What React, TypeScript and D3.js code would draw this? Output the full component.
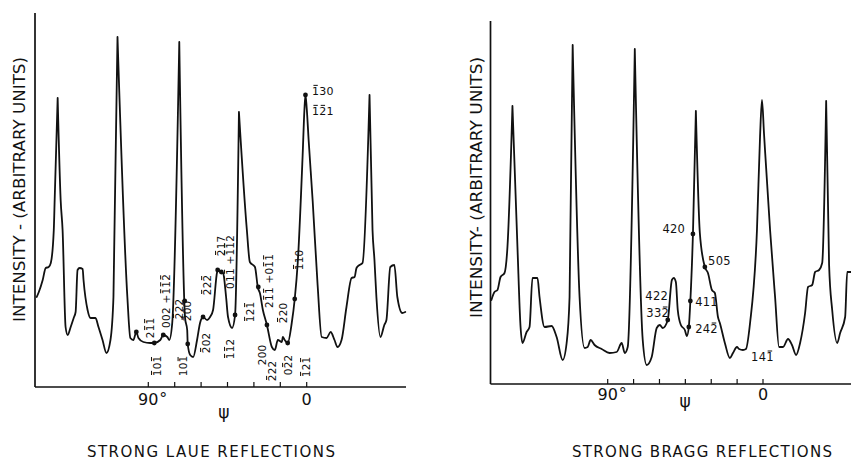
import React from 'react';
import * as d3 from 'd3';

// ---------- data: STRONG LAUE REFLECTIONS (left) ----------
const lauePsi = [
  153.4, 152.2, 150.0, 148.3, 146.6, 145.4, 143.7, 143.2, 141.5, 139.8, 138.7, 137.0, 135.8, 134.1, 132.4, 131.3,
  130.2, 129.0, 127.3, 126.8, 124.5, 122.8, 120.0, 118.3, 116.0, 113.8, 111.5, 109.8, 107.5, 101.9, 100.2, 98.5,
  96.8, 95.6, 92.8, 88.9, 86.6, 83.2, 81.5, 79.2, 78.1, 76.4, 72.4, 69.1, 67.9, 67.6, 66.2, 64.5,
  62.3, 60.6, 58.9, 56.6, 54.9, 53.2, 50.9, 50.4, 48.7, 47.5, 45.8, 44.7, 42.4, 40.7, 38.5, 34.0,
  32.3, 29.4, 27.7, 26.6, 24.9, 22.6, 19.8, 18.1, 16.4, 14.1, 13.6, 12.5, 10.8, 8.5, 6.8, 5.1,
  2.3, 1.3, 0.7, 0.0, -1.1, -3.4, -6.2, -8.5, -11.3, -13.6, -15.8, -17.5, -19.8, -22.6, -25.5, -27.2,
  -28.3, -30.0, -31.7, -35.7, -37.4, -38.5, -39.6, -41.9, -44.1, -45.3, -47.5, -49.8, -51.5, -54.3, -56.0,
];
const laueIntensity = [
  90, 95, 107, 119, 120, 124, 157, 187, 289, 187, 157, 60, 52, 60, 69, 75,
  117, 119, 118, 107, 77, 69, 69, 60, 47, 34, 47, 90, 350, 90, 49, 47,
  55, 49, 45, 44, 44, 47, 52, 50, 47, 64, 345, 69, 57, 43, 32, 30,
  47, 64, 70, 67, 70, 77, 115, 117, 115, 114, 90, 70, 59, 72, 275, 157,
  125, 120, 99, 94, 77, 62, 40, 37, 47, 45, 50, 47, 44, 64, 88, 124,
  232, 277, 292, 279, 247, 186, 102, 50, 49, 55, 47, 40, 47, 80, 109, 110,
  119, 122, 124, 292, 157, 127, 90, 50, 62, 67, 120, 122, 90, 74, 75,
];
const laueCuspPsi = [141.5, 107.5, 72.4, 38.5, -35.7];
const laueMarkerPsi = [96.8, 86.6, 81.5, 69.3, 67.6, 58.9, 50.6, 48.5, 40.7, 27.5, 22.6, 10.8, 6.8, 0.7];
const laueMarkerIntensity = [55, 44, 52, 86, 43, 70, 117, 115, 72, 100, 62, 44, 88, 292];

// rotated reflection labels ("~" puts a bar over the next character)
const laueLabelText = [
  '~10~1', '2~1~1', '002 +~1~1~2', '~222', '~200', '10~1', '~202', '~22~2', '~217', '0~1~1 +~1~12',
  '~1~12', '~12~1', '200', '~222', '2~1~1 +0~1~1', '~220', '0~22', '~110', '~12~1',
];
const laueLabelPsi = [85.1, 89.0, 79.9, 72.6, 67.7, 70.0, 57.2, 56.6, 48.7, 43.6, 43.6, 32.2, 25.4, 19.7, 21.4, 13.5, 10.6, 4.4, 0.4];
const laueLabelIntensity = [21, 59, 86, 78, 76, 21, 44, 102, 141, 125, 38, 75, 32, 16, 106, 74, 22, 127, 20];
// horizontal labels at the psi = 0 peak
const laueTopLabelText = ['~130', '~1~21'];
const laueTopLabelPsi = [-3.0, -3.0];
const laueTopLabelIntensity = [292, 272];

// ---------- data: STRONG BRAGG REFLECTIONS (right) ----------
const braggPsi = [
  157.4, 155.6, 153.9, 152.1, 149.8, 148.1, 145.2, 142.3, 140.5, 139.4, 137.0, 135.3, 133.6, 130.7, 129.5, 126.6,
  122.5, 119.6, 116.1, 113.8, 112.1, 110.3, 106.3, 103.4, 101.6, 99.9, 97.6, 93.5, 88.9, 84.8, 81.9, 80.1,
  78.4, 74.3, 69.7, 67.4, 64.5, 61.6, 59.8, 58.1, 55.2, 52.8, 51.7, 50.5, 49.4, 47.6, 45.3, 44.1,
  43.0, 42.1, 40.6, 38.9, 36.6, 33.7, 31.9, 29.6, 27.9, 26.1, 25.0, 22.1, 19.2, 17.4, 15.1, 13.9,
  11.6, 9.9, 7.5, 3.5, 1.7, 0.6, -0.6, -4.1, -7.0, -9.3, -11.6, -14.5, -16.8, -19.2, -21.5, -24.4,
  -26.1, -28.5, -30.2, -32.5, -34.3, -36.6, -38.3, -40.1, -43.0, -44.7, -47.6, -48.8, -51.1,
];
const braggIntensity = [
  84, 92, 94, 107, 111, 137, 278, 137, 57, 41, 52, 57, 106, 106, 87, 57,
  58, 47, 24, 41, 87, 339, 87, 36, 37, 44, 39, 35, 31, 32, 41, 31,
  37, 335, 44, 19, 27, 56, 59, 56, 64, 104, 106, 102, 74, 59, 54, 48,
  57, 83, 150, 273, 151, 117, 111, 94, 91, 67, 61, 41, 26, 31, 37, 35,
  34, 35, 61, 154, 248, 284, 250, 154, 87, 37, 37, 45, 39, 29, 41, 71,
  97, 99, 112, 114, 121, 283, 119, 74, 41, 51, 67, 112, 112,
];
const braggCuspPsi = [145.2, 110.3, 74.3, 38.9, -36.6];
const braggMarkerPsi = [55.2, 43.0, 42.1, 40.6, 33.7];
const braggMarkerIntensity = [64, 57, 83, 150, 117];
const braggLabelText = ['420', '505', '422', '33~2', '411', '24~2', '14~1'];
const braggLabelPsi = [45.2, 31.9, 55.1, 54.5, 39.4, 39.4, 7.0];
const braggLabelIntensity = [151, 119, 84, 67, 78, 51, 23];
const braggLabelAnchor = ['end', 'start', 'end', 'end', 'start', 'start', 'start'];

// ---------- axes ----------
const psiTicks = [90, 75, 60, 45, 30, 15, 0];
const psiTickLabels = ['90', '', '', '', '', '', '0'];
const yAxisTitles = ['INTENSITY - (ARBITRARY UNITS)', 'INTENSITY- (ARBITRARY UNITS)'];
const panelTitles = ['STRONG LAUE REFLECTIONS', 'STRONG BRAGG REFLECTIONS'];

const FONT = "'DejaVu Sans', 'Liberation Sans', sans-serif";

function parseLabel(t: string) {
  const out: { ch: string; bar: boolean }[] = [];
  let bar = false;
  for (const c of t) {
    if (c === '~') { bar = true; continue; }
    out.push({ ch: c, bar });
    bar = false;
  }
  return out;
}

function MillerLabel({ x, y, text, size, anchor, rotate }: { x: number; y: number; text: string; size: number; anchor: string; rotate: boolean }) {
  const chars = parseLabel(text);
  const adv = (c: string) => (c === ' ' ? 0.36 : c === '+' ? 0.84 : 0.66) * size;
  const total = chars.reduce((s, c) => s + adv(c.ch), 0);
  let pos = anchor === 'middle' ? -total / 2 : anchor === 'end' ? -total : 0;
  const cap = 0.73 * size;
  const base = rotate ? cap / 2 : 0;
  const els: React.ReactNode[] = [];
  chars.forEach((c, i) => {
    const a = adv(c.ch);
    if (c.ch !== ' ') {
      els.push(
        <text key={'t' + i} x={pos + a / 2} y={base} fontSize={size} textAnchor="middle" fontFamily={FONT} fill="#111">
          {c.ch}
        </text>
      );
    }
    if (c.bar) {
      els.push(
        <line key={'b' + i} x1={pos + a * 0.2} x2={pos + a * 0.8} y1={base - cap - 1.6} y2={base - cap - 1.6} stroke="#111" strokeWidth={1} />
      );
    }
    pos += a;
  });
  return <g transform={`translate(${x},${y})${rotate ? ' rotate(-90)' : ''}`}>{els}</g>;
}

function curvePath(psi: number[], inten: number[], cusps: number[], xs: any, ys: any) {
  const pts = psi.map((p, i) => [p, inten[i]] as [number, number]);
  const pieces: [number, number][][] = [];
  let cur: [number, number][] = [];
  pts.forEach((pt) => {
    cur.push(pt);
    if (cusps.includes(pt[0])) {
      pieces.push(cur);
      cur = [pt];
    }
  });
  if (cur.length > 1) pieces.push(cur);
  const line = d3
    .line<[number, number]>()
    .x((d) => xs(d[0]))
    .y((d) => ys(d[1]))
    .curve(d3.curveMonotoneX);
  return pieces.map((p) => line(p) as string).join(' ');
}

function Panel(props: {
  psi: number[]; inten: number[]; cusps: number[]; mPsi: number[]; mInt: number[];
  xs: any; ys: any; axisX: number; axisTop: number; axisY: number; xEnd: number;
  yTitle: string; yTitleX: number; yTitleY: number; yTitleLen: number;
  title: string; titleX: number; titleLen: number; psiLabelPsi: number; psiLabelY: number; tickLabelY: number;
  children?: React.ReactNode;
}) {
  const { xs, ys } = props;
  return (
    <g>
      <line x1={props.axisX} x2={props.axisX} y1={props.axisTop} y2={props.axisY} stroke="#111" strokeWidth={1.7} />
      <line x1={props.axisX} x2={props.xEnd} y1={props.axisY} y2={props.axisY} stroke="#111" strokeWidth={1.7} />
      {psiTicks.map((t, i) => (
        <g key={t}>
          <line x1={xs(t)} x2={xs(t)} y1={props.axisY} y2={props.axisY - 5} stroke="#111" strokeWidth={1.2} />
          {psiTickLabels[i] && (
            <text x={xs(t)} y={props.tickLabelY} fontSize={16} textAnchor="middle" fontFamily={FONT} fill="#111">
              {psiTickLabels[i]}
            </text>
          )}
          {psiTickLabels[i] === '90' && (
            <text x={xs(t) + 11} y={props.tickLabelY - 1} fontSize={16} fontFamily={FONT} fill="#111">°</text>
          )}
        </g>
      ))}
      <text x={xs(props.psiLabelPsi)} y={props.psiLabelY} fontSize={17} textAnchor="middle" fontFamily={FONT} fill="#111">ψ</text>
      <path d={curvePath(props.psi, props.inten, props.cusps, xs, ys)} fill="none" stroke="#111" strokeWidth={1.8} strokeLinecap="round" strokeLinejoin="round" />
      {props.mPsi.map((p, i) => (
        <circle key={i} cx={xs(p)} cy={ys(props.mInt[i])} r={2.4} fill="#111" />
      ))}
      <text
        transform={`translate(${props.yTitleX},${props.yTitleY}) rotate(-90)`}
        fontSize={16}
        textAnchor="middle"
        fontFamily={FONT}
        fill="#111"
        textLength={props.yTitleLen}
        lengthAdjust="spacingAndGlyphs"
      >
        {props.yTitle}
      </text>
      <text
        x={props.titleX}
        y={457}
        fontSize={15}
        textAnchor="middle"
        fontFamily={FONT}
        fill="#111"
        textLength={props.titleLen}
        lengthAdjust="spacing"
      >
        {props.title}
      </text>
      {props.children}
    </g>
  );
}

export default function App() {
  const xL = d3.scaleLinear().domain([90, 0]).range([148.3, 306.7]);
  const yL = d3.scaleLinear().domain([0, 350]).range([387, 37]);
  const xR = d3.scaleLinear().domain([90, 0]).range([607.7, 763]);
  const yR = d3.scaleLinear().domain([0, 350]).range([384, 34]);

  return (
    <svg width={851} height={462} style={{ position: 'absolute', left: 0, top: 0, background: '#fff' }}>
      <rect x={0} y={0} width={851} height={462} fill="#fff" />
      <Panel
        psi={lauePsi} inten={laueIntensity} cusps={laueCuspPsi} mPsi={laueMarkerPsi} mInt={laueMarkerIntensity}
        xs={xL} ys={yL} axisX={35} axisTop={13} axisY={387} xEnd={406}
        yTitle={yAxisTitles[0]} yTitleX={25} yTitleY={189.5} yTitleLen={265}
        title={panelTitles[0]} titleX={211} titleLen={248} psiLabelPsi={47} psiLabelY={418} tickLabelY={405}
      >
        {laueLabelText.map((t, i) => (
          <MillerLabel key={i} x={xL(laueLabelPsi[i])} y={yL(laueLabelIntensity[i])} text={t} size={10.5} anchor="middle" rotate={true} />
        ))}
        {laueTopLabelText.map((t, i) => (
          <MillerLabel key={'h' + i} x={xL(laueTopLabelPsi[i])} y={yL(laueTopLabelIntensity[i])} text={t} size={11} anchor="start" rotate={false} />
        ))}
      </Panel>
      <Panel
        psi={braggPsi} inten={braggIntensity} cusps={braggCuspPsi} mPsi={braggMarkerPsi} mInt={braggMarkerIntensity}
        xs={xR} ys={yR} axisX={490.5} axisTop={21} axisY={384} xEnd={851}
        yTitle={yAxisTitles[1]} yTitleX={482} yTitleY={187.5} yTitleLen={261}
        title={panelTitles[1]} titleX={702} titleLen={260} psiLabelPsi={45.2} psiLabelY={407} tickLabelY={400}
      >
        {braggLabelText.map((t, i) => (
          <MillerLabel key={i} x={xR(braggLabelPsi[i])} y={yR(braggLabelIntensity[i])} text={t} size={11.5} anchor={braggLabelAnchor[i]} rotate={false} />
        ))}
      </Panel>
    </svg>
  );
}
